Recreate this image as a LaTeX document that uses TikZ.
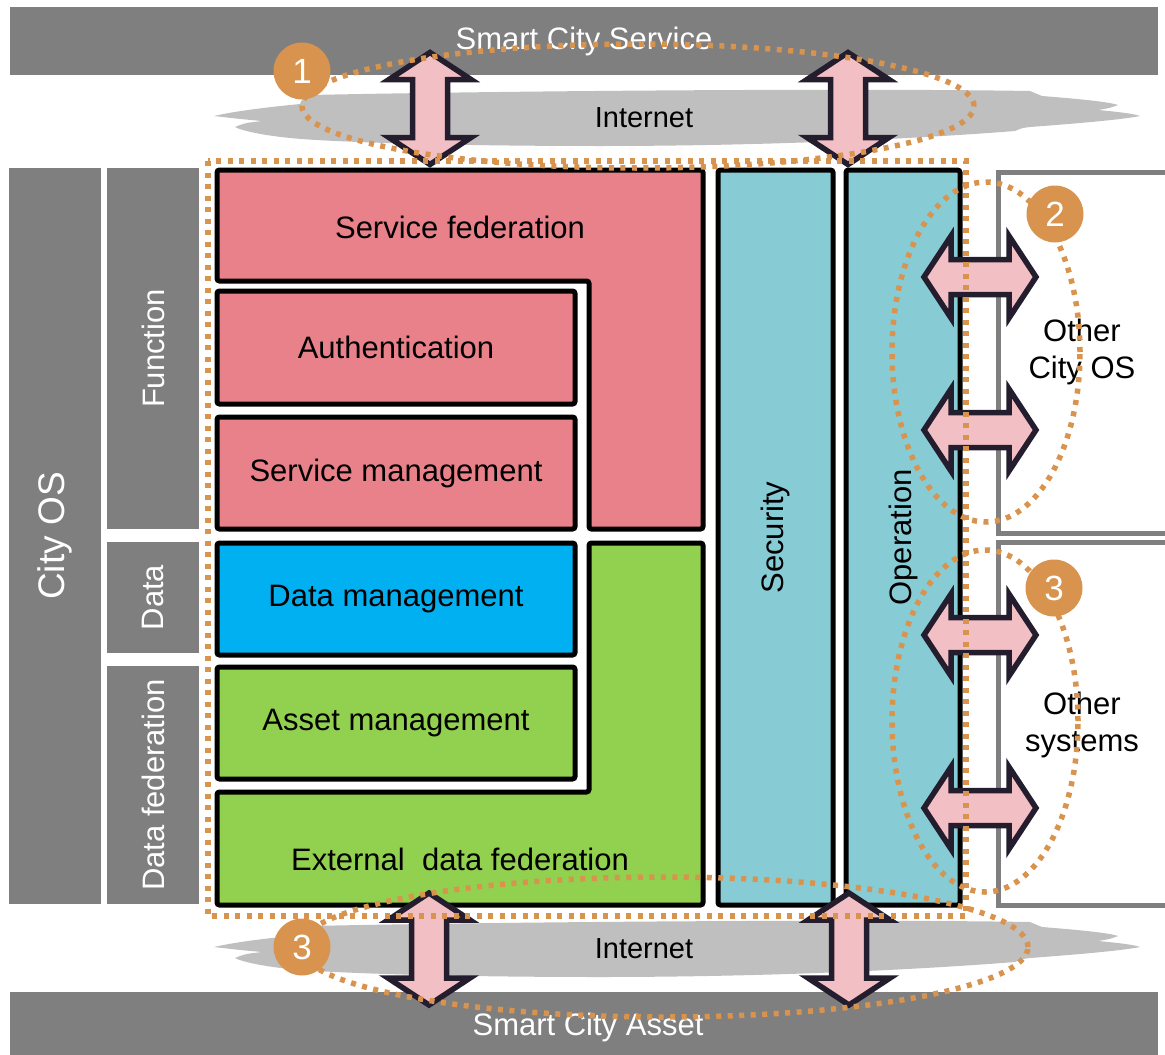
\documentclass[tikz,border=0pt]{standalone}
\usepackage{fontspec}
\setmainfont{Liberation Sans}
\definecolor{barGray}{HTML}{7F7F7F}
\definecolor{cloudGray}{HTML}{BFBFBF}
\definecolor{fnPink}{HTML}{E9818A}
\definecolor{dataBlue}{HTML}{00B0F0}
\definecolor{fedGreen}{HTML}{92D050}
\definecolor{secTeal}{HTML}{87CBD5}
\definecolor{arrowPink}{HTML}{F2C0C4}
\definecolor{arrowEdge}{HTML}{241D2E}
\definecolor{markOrange}{HTML}{D8944E}

\tikzset{
  pics/dblarrow/.style={code={
    \filldraw[fill=arrowPink, draw=arrowEdge, line width=5.5pt, line join=miter]
      (-56,0) -- (-29,-41) -- (-29,-17.5) -- (29,-17.5) -- (29,-41) -- (56,0)
      -- (29,41) -- (29,17.5) -- (-29,17.5) -- (-29,41) -- cycle;
  }}
}

\begin{document}
\begin{tikzpicture}[x=1pt,y=-1pt,
  barnode/.style={fill=barGray, draw=none, inner sep=0pt, text=white,
    font=\fontsize{31}{37}\selectfont},
  whitetxt/.style={text=white, font=\fontsize{31}{37}\selectfont},
  boxtxt/.style={font=\fontsize{31}{37.5}\selectfont, align=center},
  nettxt/.style={font=\fontsize{29}{35}\selectfont},
  blk/.style={draw=black, line width=5pt, rounded corners=2.5pt},
  blknode/.style={blk, inner sep=0pt, font=\fontsize{31}{37}\selectfont},
  sidebox/.style={draw=barGray, line width=5pt},
  orangedots/.style={draw=markOrange, line width=5.5pt, dash pattern=on 5pt off 6.5pt},
  badge/.style={circle, fill=markOrange, minimum size=57pt, inner sep=0pt,
    text=white, font=\fontsize{35}{35}\selectfont}
]
\useasboundingbox (0,0) rectangle (1165,1055);

% grey bands at the top and bottom
\node[barnode, minimum width=1148pt, minimum height=68pt] (service) at (584,41) {Smart City Service};
\fill[barGray] (10,992) rectangle (1158,1055);
\node[whitetxt] (asset) at (588,1027) {Smart City Asset};

% the two flat Internet clouds
\foreach \dy/\nm in {0/netTop, 831/netBottom}{
  \begin{scope}[shift={(0,\dy)}]
    \fill[cloudGray] (214,116)
      .. controls (240,110) and (280,106) .. (300,104)
      .. controls (302,99) .. (310,95)
      .. controls (500,91) and (850,88) .. (1030,91)
      .. controls (1036,93) .. (1042,96)
      .. controls (1080,99) and (1110,102) .. (1118,105)
      .. controls (1110,108) .. (1098,110)
      .. controls (1120,112) and (1135,114) .. (1140,116)
      .. controls (1120,120) and (1070,124) .. (1030,127)
      .. controls (1022,128) .. (1015,131)
      .. controls (900,140) and (750,146) .. (600,146)
      .. controls (450,146) and (330,142) .. (290,138)
      .. controls (260,135) and (240,130) .. (235,127)
      .. controls (245,123) .. (262,121)
      .. controls (240,119) .. (214,116) -- cycle;
    \node[nettxt] (\nm) at (644,118) {Internet};
  \end{scope}
}

% layer labels on the left
\node[barnode, rotate=90, minimum width=736pt, minimum height=92pt,
  font=\fontsize{37}{40}\selectfont] (cityos) at (55,536) {City OS};
\node[barnode, rotate=90, minimum width=361pt, minimum height=92pt] (function) at (153,348.5) {Function};
\node[barnode, rotate=90, minimum width=111pt, minimum height=92pt] (data) at (153,597.5) {Data};
\node[barnode, rotate=90, minimum width=238pt, minimum height=92pt] (datafed) at (153,785) {Data federation};

% function blocks
\filldraw[blk, fill=fnPink] (217,170) -- (703,170) -- (703,529) -- (589,529)
  -- (589,281) -- (217,281) -- cycle;
\node[boxtxt] (svcfed) at (460,227) {Service federation};
\node[blknode, fill=fnPink, minimum width=358pt, minimum height=113pt] (auth) at (396,347.5) {Authentication};
\node[blknode, fill=fnPink, minimum width=358pt, minimum height=112pt] (svcmgmt) at (396,473) {Service management};

% data block
\node[blknode, fill=dataBlue, minimum width=358pt, minimum height=112pt] (datamgmt) at (396,599) {Data management};

% data federation blocks
\node[blknode, fill=fedGreen, minimum width=358pt, minimum height=112pt] (assetmgmt) at (396,723) {Asset management};
\filldraw[blk, fill=fedGreen] (589,543) -- (703,543) -- (703,905) -- (217,905)
  -- (217,792) -- (589,792) -- cycle;
\node[boxtxt] (extfed) at (460,859) {External\ \ data federation};

% cross-cutting columns
\node[blknode, fill=secTeal, rotate=90, minimum width=735pt, minimum height=115pt] (security) at (775.5,537.5) {Security};
\node[blknode, fill=secTeal, rotate=90, minimum width=735pt, minimum height=114pt] (operation) at (903,537.5) {Operation};

% neighbouring systems on the right
\draw[sidebox] (1180,172) -- (998,172) -- (998,533) -- (1180,533);
\node[boxtxt] (othercity) at (1082,352) {Other\\City OS};
\draw[sidebox] (1180,542) -- (998,542) -- (998,905) -- (1180,905);
\node[boxtxt] (othersys) at (1082,725) {Other\\systems};

% two-way links
\pic[rotate=90] (linkTopA) at (430,108.5) {dblarrow};
\pic[rotate=90] (linkTopB) at (848,108.5) {dblarrow};
\pic[rotate=90] (linkBotA) at (429,949) {dblarrow};
\pic[rotate=90] (linkBotB) at (849,949) {dblarrow};
\pic (linkCityA) at (980,277) {dblarrow};
\pic (linkCityB) at (980,430) {dblarrow};
\pic (linkSysA) at (980,635) {dblarrow};
\pic (linkSysB) at (980,808) {dblarrow};

% dotted outline of the City OS and the numbered interface groups
\draw[orangedots] (208,161) rectangle (966,916);
\draw[orangedots] (638,106) ellipse [x radius=336pt, y radius=62pt];
\draw[orangedots] (986,352) ellipse [x radius=94pt, y radius=170pt];
\draw[orangedots] (985,721) ellipse [x radius=93pt, y radius=171pt];
\draw[orangedots] (664,947) ellipse [x radius=364pt, y radius=70pt];

\node[badge] (mark1) at (302,71) {1};
\node[badge] (mark2) at (1055,214) {2};
\node[badge] (mark3a) at (1054,588) {3};
\node[badge] (mark3b) at (302,947) {3};
\end{tikzpicture}
\end{document}
